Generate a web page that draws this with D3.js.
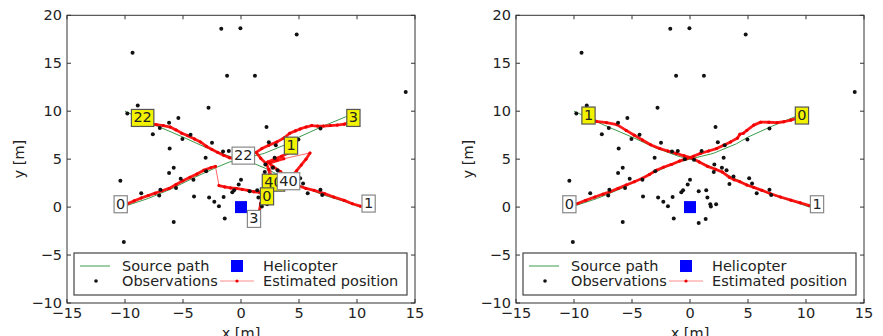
<!DOCTYPE html>
<html>
<head>
<meta charset="utf-8">
<script src="https://cdn.jsdelivr.net/npm/d3@7"></script>
<style>
  body { margin: 0; background: #fff; }
  svg { display: block; font-family: "DejaVu Sans", sans-serif; }
</style>
</head>
<body>
<svg id="chart" width="883" height="336"></svg>
<script>
// axis ticks
const xTicks = [-15, -10, -5, 0, 5, 10, 15];
const yTicks = [-10, -5, 0, 5, 10, 15, 20];

// observations (same in both panels)
const obsX = [-9.35, -1.7, -0.05, 4.8, -1.2, 1.2, 14.2, -2.8, -8.9, -9.8, -5.4, -6.2, -7.0, -7.6, -4.35, -5.05, -2.5, -6.15,
  -1.55, -1.05, -3.05, -5.8, -6.2, -10.4, -5.2, -4.1, -8.6, -7.05, -6.95, -5.6, -4.05, -2.75, -2.3, -1.9, -1.5, -1.4,
  -0.75, -0.6, -0.2, 0.0, -5.8, -10.1, 0.75, 1.4, 1.5, 1.75, 1.8, 2.25, 0.75, 1.35, 2.2, 6.85, 2.4, 4.95, 3.0, 1.0,
  2.9, 2.05, 2.75, 3.15, 3.4, 3.75, 5.1, 5.35, 5.75, 6.85, 7.0, -0.45, 0.35, 2.1, -3.0];
const obsY = [16.1, 18.6, 18.65, 18.0, 13.7, 13.7, 12.0, 10.35, 10.6, 9.75, 9.3, 8.8, 8.25, 7.6, 7.55, 7.1, 6.7, 6.1,
  5.8, 5.85, 5.15, 4.1, 3.55, 2.75, 2.95, 2.85, 1.45, 1.2, 1.8, 2.0, 1.1, 1.0, 0.55, 0.1, 1.05, -1.2,
  1.55, 1.75, 2.35, 2.85, -1.55, -3.65, 1.65, 1.75, 1.0, 0.3, 0.05, 0.3, -1.65, -1.25, 8.35, 8.2, 6.75, 7.05, 6.45, 5.85,
  5.15, 3.65, 4.1, 3.85, 2.4, 3.2, 3.0, 2.45, 1.45, 1.8, 1.25, 5.0, 4.95, 4.45, 3.75];

// true source paths
const srcAX = [-10, -8, -6, -4, -2, -1, 0, 1, 2, 4, 5, 7, 9, 9.8];
const srcAY = [0.1, 0.9, 1.9, 3.1, 4.2, 4.7, 5.0, 5.3, 5.6, 6.6, 7.3, 8.4, 9.4, 9.8];
const srcBX = [-10, -7.5, -5, -3, -1, 0, 1, 2, 3, 5, 7, 9, 10.3];
const srcBY = [10.0, 8.6, 7.3, 6.2, 5.3, 5.0, 4.6, 4.1, 3.5, 2.3, 1.3, 0.55, 0.0];

const heliX = [0];
const heliY = [0];

// left panel: estimated tracks
const leftT0X = [-9.8, -9.2, -8.6, -8.0, -7.4, -6.8, -6.2, -5.6, -5.0, -4.4, -3.8, -3.2, -2.6, -2.2, -1.9, -1.4, -0.9, -0.4, 0.1, 0.6, 1.1, 1.6, 1.9];
const leftT0Y = [0.35, 0.65, 0.95, 1.2, 1.45, 1.7, 1.95, 2.35, 2.75, 3.1, 3.45, 3.85, 4.1, 4.25, 2.25, 2.1, 2.0, 1.95, 1.85, 1.75, 1.6, 1.55, 1.2];
const leftT22X = [0.0, -0.5, -1.0, -1.5, -2.0, -2.5, -3.0, -3.5, -4.0, -4.6, -5.1, -5.6, -6.1, -6.7, -7.3, -7.9];
const leftT22Y = [4.9, 5.0, 5.15, 5.4, 5.7, 6.0, 6.35, 6.8, 7.1, 7.45, 7.7, 8.05, 8.35, 8.5, 8.6, 8.7];
const leftT3X = [1.6, 1.7, 1.9, 2.1, 2.3, 2.5, 2.4, 2.2, 1.7, 1.3, 1.8, 2.4, 3.1, 3.7, 4.2, 4.7, 5.1, 5.6, 6.1, 6.6, 7.1, 7.7, 8.3, 8.9, 9.3];
const leftT3Y = [-0.3, 0.4, 1.1, 1.8, 2.5, 3.2, 3.9, 4.5, 5.1, 5.7, 6.1, 6.45, 6.8, 7.2, 7.7, 7.95, 8.15, 8.35, 8.5, 8.45, 8.45, 8.5, 8.55, 8.65, 8.8];
const leftT1X = [10.3, 9.6, 8.9, 8.0, 7.2, 6.3, 5.6, 5.0, 4.4, 3.9, 3.4, 2.8, 2.3, 2.9, 3.5, 4.0, 4.2];
const leftT1Y = [0.1, 0.35, 0.7, 1.05, 1.4, 1.75, 1.95, 2.2, 2.6, 3.1, 3.7, 4.2, 4.7, 5.0, 5.3, 5.6, 6.1];
const leftT40X = [4.4, 4.8, 5.2, 5.6, 5.95, 3.7, 3.1, 2.5, 2.7];
const leftT40Y = [3.3, 3.8, 4.4, 5.0, 5.65, 5.05, 4.85, 4.6, 2.8];

const leftLabelText = ["40", "40", "22", "3", "22", "1", "0", "0", "1", "3"];
const leftLabelX = [2.8, 4.1, -8.48, 9.69, 0.2, 4.31, 2.24, -10.37, 11.0, 1.12];
const leftLabelY = [2.6, 2.75, 9.35, 9.35, 5.42, 6.46, 1.17, 0.35, 0.42, -1.18];
const leftLabelEnd = [true, false, true, true, false, true, true, false, false, false];

// right panel: estimated tracks
const rightT0X = [-9.7, -9.0, -8.2, -7.5, -6.9, -6.2, -5.5, -4.8, -4.1, -3.5, -2.9, -2.3, -1.6, -0.9, -0.3, 0.3, 0.9, 1.6, 2.3, 2.9, 3.5, 4.1, 4.3, 4.6, 4.9, 5.5, 6.1, 6.8, 7.5, 8.1, 8.7, 9.2];
const rightT0Y = [0.38, 0.7, 1.05, 1.35, 1.6, 1.95, 2.3, 2.65, 3.0, 3.4, 3.85, 4.15, 4.45, 4.8, 5.05, 5.3, 5.6, 5.85, 6.1, 6.45, 6.8, 7.2, 7.6, 7.7, 8.0, 8.55, 8.86, 8.85, 8.8, 8.9, 9.07, 9.25];
const rightT1X = [10.3, 9.5, 8.7, 7.8, 6.9, 6.2, 5.5, 4.9, 4.3, 3.8, 3.4, 2.8, 2.2, 1.5, 0.8, 0.2, -0.5, -1.2, -1.9, -2.6, -3.4, -4.1, -4.8, -5.5, -6.3, -7.2, -8.1, -8.6];
const rightT1Y = [0.15, 0.45, 0.72, 1.05, 1.42, 1.75, 2.05, 2.3, 2.65, 2.85, 3.1, 3.65, 3.95, 4.25, 4.7, 5.1, 5.35, 5.6, 5.85, 6.1, 6.5, 7.0, 7.5, 8.0, 8.6, 8.8, 8.95, 9.2];

const rightLabelText = ["0", "1", "1", "0"];
const rightLabelX = [-10.4, 10.95, -8.75, 9.65];
const rightLabelY = [0.35, 0.35, 9.6, 9.6];
const rightLabelEnd = [false, false, true, true];

const zip = (xs, ys) => xs.map((x, i) => [x, ys[i]]);

const panels = [
  {
    x0: 67,
    tracks: [zip(leftT0X, leftT0Y), zip(leftT22X, leftT22Y), zip(leftT3X, leftT3Y), zip(leftT1X, leftT1Y), zip(leftT40X, leftT40Y)],
    labels: leftLabelText.map((t, i) => ({ t, x: leftLabelX[i], y: leftLabelY[i], end: leftLabelEnd[i] }))
  },
  {
    x0: 516,
    tracks: [zip(rightT0X, rightT0Y), zip(rightT1X, rightT1Y)],
    labels: rightLabelText.map((t, i) => ({ t, x: rightLabelX[i], y: rightLabelY[i], end: rightLabelEnd[i] }))
  }
];

const svg = d3.select("#chart");
const plotTop = 15.3, plotBottom = 303, plotW = 348;
const fs = 14.5;
const fmt = d => String(d).replace("-", "\u2212");

panels.forEach(p => {
  const x = d3.scaleLinear().domain([-15, 15]).range([p.x0, p.x0 + plotW]);
  const y = d3.scaleLinear().domain([-10, 20]).range([plotBottom, plotTop]);
  const g = svg.append("g");

  // frame
  g.append("rect")
    .attr("x", p.x0).attr("y", plotTop).attr("width", plotW).attr("height", plotBottom - plotTop)
    .attr("fill", "#fff").attr("stroke", "#333").attr("stroke-width", 1);

  // ticks (inward, all sides)
  xTicks.forEach(t => {
    g.append("line").attr("x1", x(t)).attr("x2", x(t)).attr("y1", plotBottom).attr("y2", plotBottom - 4).attr("stroke", "#333");
    g.append("line").attr("x1", x(t)).attr("x2", x(t)).attr("y1", plotTop).attr("y2", plotTop + 4).attr("stroke", "#333");
    g.append("text").attr("x", x(t)).attr("y", 318).attr("text-anchor", "middle")
      .attr("font-size", fs).attr("fill", "#222").text(fmt(t));
  });
  yTicks.forEach(t => {
    g.append("line").attr("x1", p.x0).attr("x2", p.x0 + 4).attr("y1", y(t)).attr("y2", y(t)).attr("stroke", "#333");
    g.append("line").attr("x1", p.x0 + plotW).attr("x2", p.x0 + plotW - 4).attr("y1", y(t)).attr("y2", y(t)).attr("stroke", "#333");
    g.append("text").attr("x", p.x0 - 5).attr("y", y(t) + 5).attr("text-anchor", "end")
      .attr("font-size", fs).attr("fill", "#222").text(fmt(t));
  });

  // axis labels
  g.append("text").attr("x", x(0)).attr("y", 338).attr("text-anchor", "middle")
    .attr("font-size", fs).attr("fill", "#222").text("x [m]");
  g.append("text").attr("transform", `translate(${p.x0 - 43},${y(5)}) rotate(-90)`)
    .attr("text-anchor", "middle").attr("font-size", fs).attr("fill", "#222").text("y [m]");

  const line = d3.line().x(d => x(d[0])).y(d => y(d[1]));

  // source paths
  [zip(srcAX, srcAY), zip(srcBX, srcBY)].forEach(s => {
    g.append("path").attr("d", line(s)).attr("fill", "none")
      .attr("stroke", "#3c9a4c").attr("stroke-width", 1);
  });

  // estimated tracks: dense estimates look thick, jumps are thin
  p.tracks.forEach(tr => {
    for (let i = 1; i < tr.length; i++) {
      const a = tr[i - 1], b = tr[i];
      const len = Math.hypot(x(b[0]) - x(a[0]), y(b[1]) - y(a[1]));
      const jump = len > 14;
      g.append("line")
        .attr("x1", x(a[0])).attr("y1", y(a[1])).attr("x2", x(b[0])).attr("y2", y(b[1]))
        .attr("stroke", "#f00").attr("stroke-opacity", jump ? 0.6 : 0.9)
        .attr("stroke-width", jump ? 1 : 2.8).attr("stroke-linecap", "round");
    }
    g.selectAll(null).data(tr).enter().append("circle")
      .attr("cx", d => x(d[0])).attr("cy", d => y(d[1])).attr("r", 1.5).attr("fill", "#e00");
  });

  // observations
  g.selectAll(null).data(zip(obsX, obsY)).enter().append("circle")
    .attr("cx", d => x(d[0])).attr("cy", d => y(d[1])).attr("r", 2).attr("fill", "#111");

  // helicopter
  g.selectAll(null).data(zip(heliX, heliY)).enter().append("rect")
    .attr("x", d => x(d[0]) - 6).attr("y", d => y(d[1]) - 6).attr("width", 12).attr("height", 12)
    .attr("fill", "#0000ff");

  // track labels
  p.labels.forEach(l => {
    const lg = g.append("g");
    const txt = lg.append("text").attr("x", x(l.x)).attr("y", y(l.y) + 5).attr("text-anchor", "middle")
      .attr("font-size", fs).attr("fill", "#222").text(l.t);
    const bb = txt.node().getBBox();
    lg.insert("rect", "text")
      .attr("x", bb.x - 2).attr("y", bb.y).attr("width", bb.width + 4).attr("height", bb.height + 1)
      .attr("fill", l.end ? "#f2f200" : "#fff")
      .attr("stroke", l.end ? "#555" : "#888").attr("stroke-width", 1.2);
  });

  // legend
  const lx = p.x0 + 7, ly = 253;
  const lgd = g.append("g");
  lgd.append("rect").attr("x", lx).attr("y", ly).attr("width", 333).attr("height", 42)
    .attr("fill", "#fff").attr("stroke", "#444").attr("stroke-width", 1.2);
  lgd.append("line").attr("x1", lx + 6).attr("x2", lx + 36).attr("y1", 266).attr("y2", 266)
    .attr("stroke", "#3c9a4c").attr("stroke-width", 1);
  lgd.append("text").attr("x", lx + 48).attr("y", 271).attr("font-size", fs).attr("fill", "#222").text("Source path");
  lgd.append("circle").attr("cx", lx + 22).attr("cy", 281).attr("r", 1.8).attr("fill", "#111");
  lgd.append("text").attr("x", lx + 48).attr("y", 286).attr("font-size", fs).attr("fill", "#222").text("Observations");
  lgd.append("rect").attr("x", lx + 157).attr("y", 260).attr("width", 12).attr("height", 12).attr("fill", "#0000ff");
  lgd.append("text").attr("x", lx + 189).attr("y", 271).attr("font-size", fs).attr("fill", "#222").text("Helicopter");
  lgd.append("line").attr("x1", lx + 146).attr("x2", lx + 180).attr("y1", 281).attr("y2", 281)
    .attr("stroke", "#f00").attr("stroke-opacity", 0.45).attr("stroke-width", 1);
  lgd.append("circle").attr("cx", lx + 163).attr("cy", 281).attr("r", 1.6).attr("fill", "#e00");
  lgd.append("text").attr("x", lx + 189).attr("y", 286).attr("font-size", fs).attr("fill", "#222").text("Estimated position");
});
</script>
</body>
</html>
